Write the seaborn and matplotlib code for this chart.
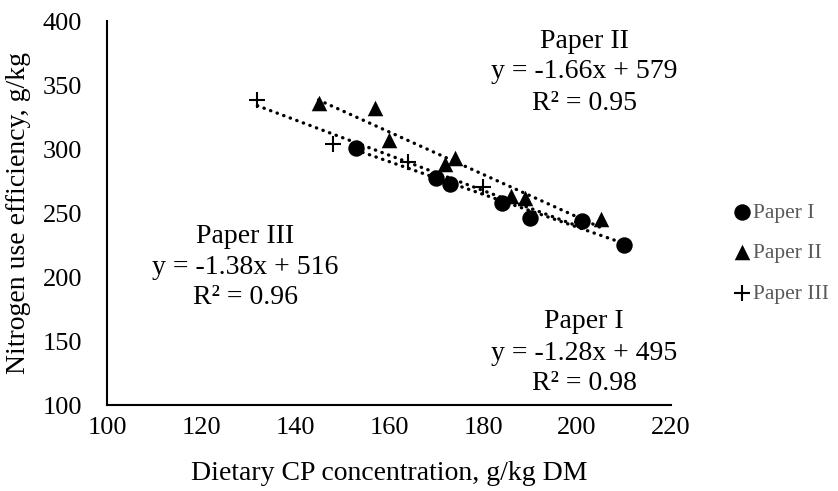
import numpy as np
import pandas as pd
import seaborn as sns
import matplotlib.pyplot as plt

papers = ['Paper I', 'Paper II', 'Paper III']

# dietary CP (g/kg DM) vs nitrogen use efficiency (g/kg)
cp_paper1 = [153, 170, 173, 184, 190, 201, 210]
nue_paper1 = [301, 277, 273, 258, 246, 244, 225]
cp_paper2 = [145, 157, 160, 172, 174, 186, 189, 205]
nue_paper2 = [336, 332, 307, 288, 293, 263, 262, 245]
cp_paper3 = [132, 148, 164, 180, 201]
nue_paper3 = [338, 304, 290, 270, 243]

# linear trendlines as printed on the chart
slopes = [-1.28, -1.66, -1.38]
intercepts = [495, 579, 516]
r2 = [0.98, 0.95, 0.96]

df = pd.DataFrame({
    'cp': cp_paper1 + cp_paper2 + cp_paper3,
    'nue': nue_paper1 + nue_paper2 + nue_paper3,
    'paper': [papers[0]] * len(cp_paper1) + [papers[1]] * len(cp_paper2) + [papers[2]] * len(cp_paper3),
})

sns.set_theme(style='white')
plt.rcParams['font.family'] = ['Liberation Serif', 'DejaVu Serif']

W, H = 838, 491
fig = plt.figure(figsize=(W / 100, H / 100), dpi=100)
ax = fig.add_axes([107 / W, 1 - 405 / H, (671 - 107) / W, (405 - 21) / H])

# dotted trendlines over each paper's range
for p, m, b in zip(papers, slopes, intercepts):
    sub = df[df['paper'] == p]
    xs = np.array([sub['cp'].min(), sub['cp'].max()])
    sns.lineplot(x=xs, y=m * xs + b, ax=ax, color='black', linewidth=2.4,
                 linestyle=(0, (0.1, 2.0)), dash_capstyle='round', legend=False)

markers = {'Paper I': 'o', 'Paper II': '^', 'Paper III': '+'}
sizes = {'Paper I': 140, 'Paper II': 125, 'Paper III': 120}
for p in papers:
    sub = df[df['paper'] == p]
    sns.scatterplot(data=sub, x='cp', y='nue', ax=ax, marker=markers[p], s=sizes[p],
                    color='black', edgecolor='black', linewidth=1.5 if p == 'Paper III' else 0,
                    label=p, zorder=3)

ax.set_xlim(100, 220)
ax.set_ylim(100, 400)
ax.set_xticks(range(100, 221, 20))
ax.set_yticks(range(100, 401, 50))
ax.tick_params(length=0, labelsize=19, colors='black')
ax.tick_params(axis='y', pad=18)
ax.tick_params(axis='x', pad=9)
for s in ['top', 'right']:
    ax.spines[s].set_visible(False)
for s in ['left', 'bottom']:
    ax.spines[s].set_color('black')
    ax.spines[s].set_linewidth(1.5)

ax.set_xlabel('Dietary CP concentration, g/kg DM', fontsize=20, color='black', va='center')
ax.set_ylabel('Nitrogen use efficiency, g/kg', fontsize=20, color='black', va='center')
ax.xaxis.set_label_coords(0.5, (405 - 474) / 384)
ax.yaxis.set_label_coords((19 - 107) / 564, 0.5)

# equation labels, one line at a time (centre x, centre y of first line in pixels)
label_pos = {'Paper I': (584, 322), 'Paper II': (584, 41), 'Paper III': (245, 236)}
for p, m, b, r in zip(papers, slopes, intercepts, r2):
    px, py = label_pos[p]
    lines = [p, f'y = {m}x + {b}', f'R² = {r}']
    for i, line in enumerate(lines):
        fig.text(px / W, 1 - (py + 31 * i) / H, line, ha='center', va='center',
                 fontsize=20, color='black')

ax.legend(loc='center left', bbox_to_anchor=(723 / W, 1 - 253 / H), bbox_transform=fig.transFigure,
          frameon=False, fontsize=15.5, labelcolor='#595959', handletextpad=0.0,
          handlelength=1.0, labelspacing=0.95, borderaxespad=0)

fig.savefig('out.png', dpi=100)
